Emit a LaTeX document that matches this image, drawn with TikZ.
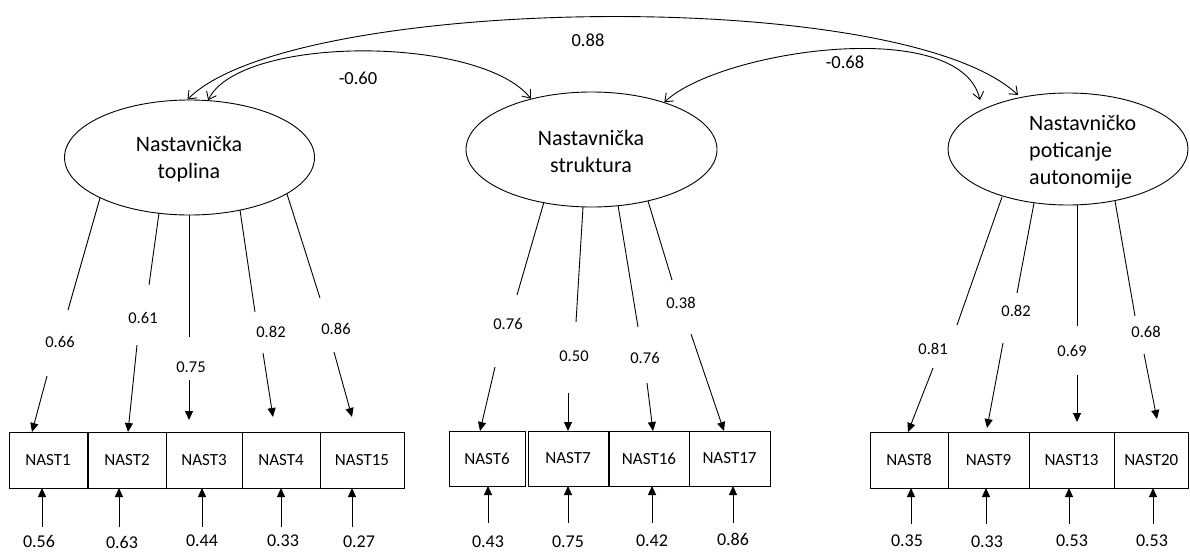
\documentclass[tikz,border=0pt]{standalone}
\usepackage{fontspec}
\setmainfont{Carlito}
\usetikzlibrary{shapes.geometric,arrows.meta}

% one factor loading: line from the factor, value, then arrow to the item
% #1 name, #2 start, #3 line end, #4 value position, #5 value, #6 arrow start, #7 arrow tip
\newcommand\factorload[7]{%
  \coordinate (#1s) at #2; \coordinate (#1e) at #3;
  \coordinate (#1a) at #6; \coordinate (#1t) at #7;
  \draw[loadline] (#1s) -- (#1e);
  \node[lbl] (#1l) at #4 {#5};
  \draw[loadarrow] (#1a) -- (#1t);}

% one residual: arrow up to the item and its value below
% #1 name, #2 x, #3 tip y, #4 start y, #5 value position, #6 value
\newcommand\residual[6]{%
  \coordinate (#1rs) at (#2,#4); \coordinate (#1rt) at (#2,#3);
  \draw[errarrow] (#1rs) -- (#1rt);
  \node[errlbl] (#1rl) at #5 {#6};}

\begin{document}
\begin{tikzpicture}[x=1pt,y=-1pt,
  latent/.style={draw,ellipse,line width=0.9pt,inner sep=0pt},
  obs/.style={draw,rectangle,line width=1pt,inner sep=0pt,
    font=\fontsize{17}{20}\selectfont},
  ltext/.style={font=\fontsize{22}{27}\selectfont,inner sep=0pt},
  loadline/.style={line width=0.9pt},
  loadarrow/.style={line width=0.9pt,-{Triangle[length=9pt,width=8pt]}},
  errarrow/.style={line width=1pt,-{Triangle[length=9pt,width=8pt]}},
  corr/.style={line width=0.9pt,
    {Straight Barb[length=7pt,width=11pt]}-{Straight Barb[length=7pt,width=11pt]}},
  lbl/.style={font=\fontsize{16.5}{20}\selectfont,inner sep=0pt},
  errlbl/.style={font=\fontsize{18}{20}\selectfont,inner sep=0pt},
  corrlbl/.style={font=\fontsize{18.5}{20}\selectfont,inner sep=0pt}]
\useasboundingbox (0,0) rectangle (1190,552);

% latent factors
\node[latent,minimum width=250pt,minimum height=115pt] (e1) at (189.5,157.5) {};
\node[latent,minimum width=251pt,minimum height=115pt] (e2) at (591.5,149.5) {};
\node[latent,minimum width=240pt,minimum height=112pt] (e3) at (1068,149) {};
\node[ltext,align=center] (t1) at (189,159) {Nastavnička\\toplina};
\node[ltext,align=center] (t2) at (591,151) {Nastavnička\\struktura};
\node[ltext,align=left,anchor=west] (t3) at (1029,151.5) {Nastavničko\\poticanje\\autonomije};

% correlations between factors
\coordinate (c1a) at (1018,95);
\coordinate (c3a) at (980,100);
\draw[corr] (e1.92) .. controls (290,-5) and (900,-15) .. (c1a);
\draw[corr] (e1.72) .. controls (240,35) and (480,35) .. (e2.140);
\draw[corr] (e2.33) .. controls (720,50) and (960,15) .. (c3a);
\node[corrlbl] (r13) at (588,40) {0.88};
\node[corrlbl] (r12) at (358,78) {-0.60};
\node[corrlbl] (r23) at (845,62) {-0.68};

% observed items
\node[obs,minimum width=78pt,minimum height=56pt] (n1) at (48,460) {NAST1};
\node[obs,minimum width=78pt,minimum height=56pt] (n2) at (127,460) {NAST2};
\node[obs,minimum width=76pt,minimum height=56pt] (n3) at (204,460) {NAST3};
\node[obs,minimum width=78pt,minimum height=56pt] (n4) at (281,460) {NAST4};
\node[obs,minimum width=84pt,minimum height=56pt] (n15) at (362,460) {NAST15};

\node[obs,minimum width=76pt,minimum height=55pt] (n6) at (487,458.5) {NAST6};
\node[obs,minimum width=80pt,minimum height=55pt] (n7) at (568,458.5) {NAST7};
\node[obs,minimum width=80pt,minimum height=55pt] (n16) at (649,458.5) {NAST16};
\node[obs,minimum width=81pt,minimum height=55pt] (n17) at (729.5,458.5) {NAST17};

\node[obs,minimum width=78pt,minimum height=56pt] (n8) at (909,460) {NAST8};
\node[obs,minimum width=81pt,minimum height=56pt] (n9) at (988.5,460) {NAST9};
\node[obs,minimum width=85pt,minimum height=56pt] (n13) at (1071.5,460) {NAST13};
\node[obs,minimum width=74.5pt,minimum height=56pt] (n20) at (1151.25,460) {NAST20};

% loadings
\factorload{f1}{(100,198)}{(68,310)}{(60,342)}{0.66}{(47,376)}{(32,432)}
\factorload{f2}{(159,213)}{(149,285)}{(143,318)}{0.61}{(137,345)}{(128,432)}
\factorload{f3}{(189,215)}{(189,337)}{(191,367)}{0.75}{(189,380)}{(189,420)}
\factorload{f4}{(240,210)}{(255,312)}{(271,332)}{0.82}{(263,353)}{(273,417)}
\factorload{f15}{(287,194)}{(320,298)}{(336,329)}{0.86}{(334,352)}{(352,417)}

\factorload{f6}{(544,202)}{(517,295)}{(508,324)}{0.76}{(495,367)}{(480,431)}
\factorload{f7}{(583,207)}{(576,322)}{(574,356)}{0.50}{(568,393)}{(568,431)}
\factorload{f16}{(618,205)}{(638,327)}{(645,358)}{0.76}{(647,383)}{(653,431)}
\factorload{f17}{(648,201)}{(672,280)}{(681,303)}{0.38}{(691,334)}{(724,431)}

\factorload{f8}{(1002,197)}{(957,325)}{(933,349)}{0.81}{(933,368)}{(908,432)}
\factorload{f9}{(1034,203)}{(1017,293)}{(1016,311)}{0.82}{(1003,343)}{(987,428)}
\factorload{f13}{(1077,205)}{(1077,326)}{(1072,351)}{0.69}{(1077,375)}{(1077,422)}
\factorload{f20}{(1115,201)}{(1135,316)}{(1146,332)}{0.68}{(1144,354)}{(1157,419)}

% residuals
\residual{n1}{42}{488}{527}{(39,541)}{0.56}
\residual{n2}{119}{488}{527}{(122,542)}{0.63}
\residual{n3}{202}{488}{527}{(202,541)}{0.44}
\residual{n4}{281}{488}{527}{(283,541)}{0.33}
\residual{n15}{352}{488}{527}{(359,542)}{0.27}

\residual{n6}{488}{486}{523}{(488,542)}{0.43}
\residual{n7}{568}{486}{523}{(568,542)}{0.75}
\residual{n16}{652}{486}{523}{(652,541)}{0.42}
\residual{n17}{733}{486}{523}{(733,539)}{0.86}

\residual{n8}{911}{488}{524}{(907,541)}{0.35}
\residual{n9}{986}{488}{524}{(987,542)}{0.33}
\residual{n13}{1069}{488}{524}{(1072,541)}{0.53}
\residual{n20}{1153}{488}{524}{(1152,541)}{0.53}
\end{tikzpicture}
\end{document}
